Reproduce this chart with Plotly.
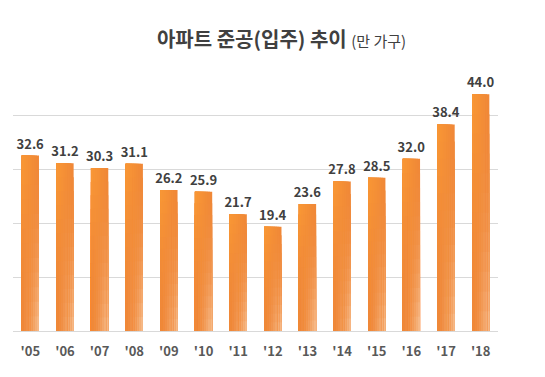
import plotly.graph_objects as go

years = ["'05", "'06", "'07", "'08", "'09", "'10", "'11", "'12", "'13", "'14", "'15", "'16", "'17", "'18"]
values = [32.6, 31.2, 30.3, 31.1, 26.2, 25.9, 21.7, 19.4, 23.6, 27.8, 28.5, 32.0, 38.4, 44.0]
labels = [f"{v:.1f}" for v in values]

BAR_W = 0.5
N_COLS, N_ROWS = 8, 12
BASE = (239, 135, 56)
TL = (250, 153, 52)
BR = (247, 194, 150)


def shade(u, v):
    w_tl = (1 - u) * v ** 2
    w_br = (u ** 1.5) * (1 - v) ** 2
    c = [BASE[k] + w_tl * (TL[k] - BASE[k]) + w_br * (BR[k] - BASE[k]) for k in range(3)]
    return "rgb({:.0f},{:.0f},{:.0f})".format(*c)


fig = go.Figure()
cw = BAR_W / N_COLS
# nested overlay: widest/tallest first, narrower/shorter ones drawn on top
for i in reversed(range(N_COLS)):
    u = (i + 0.5) / N_COLS
    for j in reversed(range(N_ROWS)):
        v = (j + 0.5) / N_ROWS
        frac = (j + 1) / N_ROWS
        fig.add_trace(go.Bar(
            x=years, y=[val * frac for val in values],
            width=(i + 1) * cw, offset=-BAR_W / 2,
            marker=dict(color=shade(u, v), line=dict(width=0)),
            hoverinfo="skip",
        ))

fig.add_trace(go.Bar(
    x=years, y=values, width=BAR_W,
    marker=dict(color="rgba(0,0,0,0)", line=dict(width=0)),
    text=labels, textposition="outside", cliponaxis=False, constraintext="none",
    textfont=dict(family="Noto Sans CJK KR, Noto Sans", size=13, color="#404040", weight="bold"),
))

fig.update_layout(
    width=545, height=377,
    barmode="overlay",
    margin=dict(l=13, r=47, t=62, b=46, autoexpand=False),
    paper_bgcolor="white", plot_bgcolor="white",
    showlegend=False,
    title=dict(
        text="<b>아파트 준공(입주) 추이</b> <span style='font-size:15px;font-weight:normal'>(만 가구)</span>",
        x=281.5 / 545, xanchor="center", y=1 - 40 / 377, yanchor="middle",
        font=dict(family="Noto Sans CJK KR", size=20, color="#404040"),
    ),
    xaxis=dict(
        showgrid=False, showline=True, linecolor="#D9D9D9", linewidth=1, automargin=False,
        ticks="", tickfont=dict(family="Noto Sans CJK KR, Noto Sans", size=13, color="#595959", weight="bold"),
        ticklabelstandoff=8,
    ),
    yaxis=dict(
        range=[0, 50], dtick=10, showgrid=True, gridcolor="#D9D9D9", gridwidth=1, automargin=False,
        showticklabels=False, zeroline=False, showline=False,
    ),
    font=dict(family="Noto Sans CJK KR"),
)

fig.write_html("out.html", config={"displayModeBar": False},
               post_script="document.body.style.margin='0';")
